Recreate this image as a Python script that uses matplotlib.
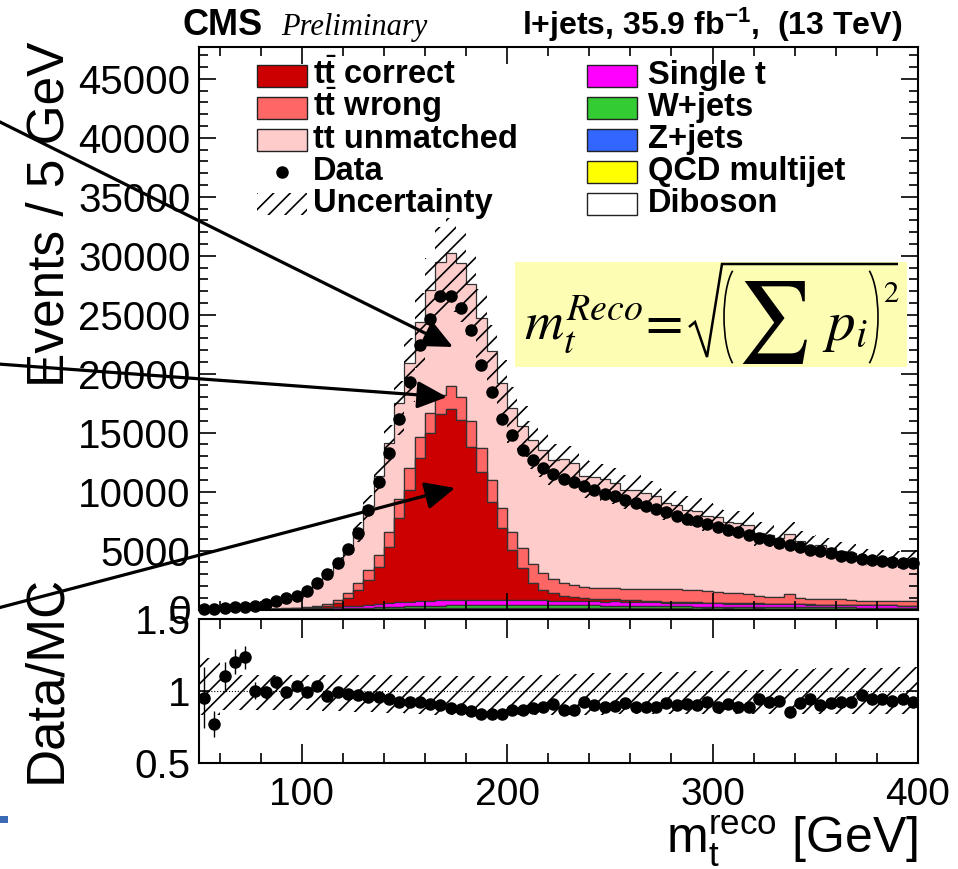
import numpy as np
import matplotlib.pyplot as plt
from matplotlib.patches import Rectangle, FancyArrowPatch, Arc
from matplotlib.lines import Line2D
from matplotlib.ticker import MultipleLocator

plt.rcParams['font.family'] = ['Liberation Sans', 'DejaVu Sans']
plt.rcParams['mathtext.fontset'] = 'custom'
plt.rcParams['mathtext.rm'] = 'Liberation Sans'
plt.rcParams['mathtext.it'] = 'Liberation Sans:italic'
plt.rcParams['mathtext.bf'] = 'Liberation Sans:bold'
plt.rcParams['hatch.linewidth'] = 1.2

# 5 GeV bins, 50-400 GeV
edges = np.arange(50, 401, 5)
centers = edges[:-1] + 2.5

data = [20, 70, 130, 185, 240, 300, 470, 750, 950, 1150,
        1600, 2220, 3010, 3970, 5100, 6510, 8430, 10790, 13280, 16160,
        19260, 22460, 24640, 26550, 26550, 25570, 23730, 20760, 18420, 16160,
        14830, 13560, 12640, 11960, 11510, 11090, 10790, 10450, 10110, 9830,
        9600, 9320, 9040, 8760, 8530, 8250, 7970, 7690, 7490, 7290,
        7010, 6720, 6550, 6360, 6070, 5870, 5650, 5510, 5310, 5085,
        4940, 4800, 4575, 4435, 4290, 4200, 4120, 4050, 3980, 3960]

tt_correct = [0, 0, 0, 0, 3, 6, 10, 15, 25, 40,
              60, 100, 150, 345, 690, 1327, 2100, 3167, 4783, 7125,
              9460, 12114, 14178, 15795, 16195, 15272, 12927, 10817, 8315, 6051,
              4227, 2699, 1426, 859, 644, 390, 326, 265, 220, 190,
              165, 145, 130, 115, 100, 90, 80, 72, 65, 58,
              52, 47, 42, 38, 34, 31, 28, 25, 23, 21,
              19, 17, 15, 14, 13, 12, 11, 10, 9, 8]

tt_wrong = [0, 0, 0, 2, 5, 8, 12, 18, 25, 35,
            50, 90, 170, 260, 420, 570, 820, 1000, 1280, 1650,
            1850, 1800, 1750, 1650, 1900, 1950, 2250, 2050, 1850, 1750,
            1550, 1700, 1650, 1450, 1150, 1080, 1020, 960, 922, 939,
            952, 969, 966, 994, 1001, 1023, 1051, 1046, 1049, 1008,
            886, 846, 851, 836, 640, 618, 606, 800, 497, 469,
            456, 443, 509, 389, 384, 380, 365, 350, 350, 435]

tt_unmatched = [21, 91, 118, 148, 179, 274, 432, 646, 867, 987,
                1422, 1852, 2642, 3199, 3836, 4488, 5464, 6671, 7526, 8091,
                8957, 9799, 10394, 11280, 11260, 11347, 11571, 11011, 10943, 10606,
                10453, 10369, 10494, 10411, 10100, 10523, 10323, 9424, 9383, 9245,
                8887, 8426, 8417, 8178, 7928, 7316, 7156, 6771, 6672, 6324,
                6426, 5985, 5980, 5836, 5307, 5246, 4995, 5157, 4853, 4510,
                4609, 4396, 4046, 4015, 3663, 3704, 3663, 3655, 3554, 3544]

single_t = [0, 0, 0, 3, 5, 8, 12, 18, 25, 35,
            50, 70, 95, 125, 160, 200, 240, 280, 320, 360,
            390, 410, 430, 445, 480, 440, 460, 455, 450, 445,
            440, 430, 420, 410, 400, 390, 380, 370, 360, 350,
            370, 310, 330, 320, 315, 305, 300, 290, 285, 280,
            270, 265, 260, 250, 245, 240, 235, 260, 225, 220,
            215, 210, 230, 200, 195, 190, 185, 180, 175, 170]

wjets = [0, 0, 0, 1, 2, 3, 5, 7, 10, 14,
         20, 28, 38, 50, 65, 80, 100, 120, 140, 160,
         180, 195, 210, 220, 230, 240, 245, 250, 250, 250,
         250, 248, 245, 242, 238, 234, 230, 225, 220, 215,
         210, 205, 200, 195, 190, 185, 180, 175, 170, 165,
         160, 156, 152, 148, 144, 140, 136, 132, 128, 124,
         120, 117, 114, 111, 108, 105, 102, 99, 96, 93]

zjets = [0, 0, 0, 0, 1, 1, 2, 3, 4, 5,
         7, 10, 13, 17, 22, 28, 35, 42, 50, 56,
         62, 68, 72, 76, 80, 82, 84, 85, 85, 85,
         85, 84, 83, 82, 81, 80, 78, 76, 74, 72,
         70, 68, 66, 64, 62, 60, 58, 56, 55, 54,
         52, 51, 50, 49, 48, 47, 46, 45, 44, 43,
         42, 41, 40, 39, 38, 37, 36, 35, 34, 33]

qcd = [0, 0, 0, 0, 0, 0, 2, 0, 3, 0,
       5, 3, 8, 10, 6, 12, 15, 10, 20, 18,
       25, 15, 30, 20, 35, 25, 40, 30, 20, 35,
       25, 40, 30, 45, 20, 35, 30, 25, 40, 20,
       30, 25, 35, 20, 30, 25, 20, 30, 15, 25,
       20, 25, 15, 20, 30, 15, 20, 10, 25, 15,
       20, 15, 10, 20, 15, 10, 15, 20, 10, 15]

diboson = [0, 0, 0, 0, 0, 0, 0, 1, 1, 1,
           2, 2, 3, 4, 5, 6, 7, 8, 9, 10,
           11, 12, 13, 14, 15, 15, 16, 16, 16, 16,
           16, 16, 16, 15, 15, 15, 15, 14, 14, 14,
           13, 13, 13, 12, 12, 12, 11, 11, 11, 10,
           10, 10, 10, 9, 9, 9, 9, 8, 8, 8,
           8, 7, 7, 7, 7, 6, 6, 6, 6, 6]

# relative edges of the MC uncertainty band
unc_up = [1.23, 1.23, 1.11, 1.11, 1.11, 1.11, 1.11, 1.11, 1.11, 1.11,
          1.11, 1.11, 1.11, 1.11, 1.11, 1.11, 1.11, 1.11, 1.11, 1.11,
          1.10, 1.10, 1.10, 1.10, 1.10, 1.10, 1.10, 1.10, 1.10, 1.10,
          1.105, 1.105, 1.11, 1.11, 1.11, 1.115, 1.115, 1.12, 1.12, 1.12,
          1.12, 1.125, 1.125, 1.125, 1.13, 1.13, 1.13, 1.135, 1.135, 1.135,
          1.14, 1.14, 1.14, 1.145, 1.145, 1.145, 1.15, 1.15, 1.15, 1.15,
          1.155, 1.155, 1.155, 1.16, 1.16, 1.16, 1.16, 1.165, 1.165, 1.165]
unc_dn = [0.83, 0.83, 0.865, 0.865, 0.865, 0.865, 0.865, 0.865, 0.865, 0.865,
          0.865, 0.865, 0.86, 0.86, 0.855, 0.855, 0.85, 0.85, 0.845, 0.845,
          0.84, 0.84, 0.835, 0.835, 0.835, 0.83, 0.83, 0.83, 0.83, 0.83,
          0.83, 0.83, 0.83, 0.83, 0.835, 0.835, 0.835, 0.835, 0.835, 0.835,
          0.84, 0.84, 0.84, 0.84, 0.84, 0.84, 0.84, 0.84, 0.84, 0.84,
          0.84, 0.84, 0.84, 0.84, 0.84, 0.84, 0.84, 0.84, 0.84, 0.84,
          0.84, 0.84, 0.84, 0.84, 0.84, 0.84, 0.84, 0.84, 0.84, 0.84]

# stack bottom -> top
stack = [diboson, qcd, zjets, wjets, single_t, tt_correct, tt_wrong, tt_unmatched]
colors = ['white', '#ffff00', '#3366ff', '#33cc33', '#ff00ff', '#cc0000', '#ff6666', '#ffcccc']

mc = np.sum(np.array(stack, float), axis=0)
data = np.array(data, float)
unc_up = np.array(unc_up)
unc_dn = np.array(unc_dn)
ratio = data / mc
ratio_err = np.sqrt(data) / mc

# figure positioned in pixels
W, H = 958, 869
def fx(px):
    return px / W
def fy(py):
    return 1 - py / H

fig = plt.figure(figsize=(W / 100, H / 100), dpi=100)
ax = fig.add_axes([fx(199), fy(609.5), fx(918) - fx(199), fy(47) - fy(609.5)])
rax = fig.add_axes([fx(199), fy(763), fx(918) - fx(199), fy(618.5) - fy(763)])

# main panel
ax.hist([centers] * len(stack), bins=edges, weights=stack, stacked=True,
        histtype='stepfilled', color=colors, edgecolor='#333333', linewidth=0.9)
band_lo = np.append(mc * unc_dn, mc[-1] * unc_dn[-1])
band_hi = np.append(mc * unc_up, mc[-1] * unc_up[-1])
ax.fill_between(edges, band_lo, band_hi, step='post', facecolor='none',
                edgecolor='black', hatch='//', linewidth=0, zorder=3)
ax.errorbar(centers, data, yerr=np.sqrt(data), fmt='o', color='black', ms=8,
            elinewidth=1, capsize=0, zorder=4, clip_on=False)

ax.set_xlim(50, 400)
ax.set_ylim(0, 47700)
ax.xaxis.set_major_locator(MultipleLocator(100))
ax.xaxis.set_minor_locator(MultipleLocator(20))
ax.yaxis.set_major_locator(MultipleLocator(5000))
ax.yaxis.set_minor_locator(MultipleLocator(1000))
ax.tick_params(which='both', direction='in', top=True, right=True,
               labelbottom=False, labelsize=29, width=1.2, pad=6)
ax.tick_params(which='major', length=12)
ax.tick_params(which='minor', length=6.5)

# ratio panel
rband_lo = np.append(unc_dn, unc_dn[-1])
rband_hi = np.append(unc_up, unc_up[-1])
rax.fill_between(edges, rband_lo, rband_hi, step='post', facecolor='none',
                 edgecolor='black', hatch='//', linewidth=0, zorder=2)
rax.axhline(1, color='black', ls=':', lw=0.8, zorder=1)
rax.errorbar(centers, ratio, yerr=ratio_err, fmt='o', color='black', ms=8,
             elinewidth=1, capsize=0, zorder=4)
rax.set_xlim(50, 400)
rax.set_ylim(0.5, 1.5)
rax.set_yticks([0.5, 1, 1.5], ['0.5', '1', '1.5'])
rax.xaxis.set_major_locator(MultipleLocator(100))
rax.xaxis.set_minor_locator(MultipleLocator(20))
rax.tick_params(which='both', direction='in', top=True, right=True,
                labelsize=28, width=1.2)
rax.tick_params(axis='y', labelsize=29)
rax.tick_params(axis='x', which='major', length=14, pad=10)
rax.tick_params(axis='x', which='minor', length=7)
rax.tick_params(axis='y', which='major', length=8, pad=6)

for a in (ax, rax):
    for s in a.spines.values():
        s.set_linewidth(1.5)

# axis titles
fig.text(fx(50), fy(42), 'Events / 5 GeV', rotation=90, fontsize=37,
         ha='center', va='top')
fig.text(fx(46), fy(679), 'Data/MC', rotation=90, fontsize=38,
         ha='center', va='center')
fig.text(fx(918), fy(853), r'm$_{\mathrm{t}}^{\mathrm{reco}}$ [GeV]', fontsize=36,
         ha='right', va='baseline')

# header
fig.text(fx(183), fy(35), 'CMS', fontsize=26, fontweight='bold', va='baseline')
fig.text(fx(281), fy(35), 'Preliminary', fontsize=22, family='Liberation Serif',
         style='italic', va='baseline')
fig.text(fx(902), fy(35), r'l+jets, 35.9 fb$^{\mathbf{-1}}$,  (13 TeV)', fontsize=23,
         fontweight='bold', ha='right', va='baseline')

# legend, drawn by hand
rows = [76, 108, 140, 172, 204]
left_entries = [(r't$\bar{\mathbf{t}}$ correct', '#cc0000'),
                (r't$\bar{\mathbf{t}}$ wrong', '#ff6666'),
                ('tt unmatched', '#ffcccc'),
                ('Data', 'data'),
                ('Uncertainty', 'unc')]
right_entries = [('Single t', '#ff00ff'), ('W+jets', '#33cc33'), ('Z+jets', '#3366ff'),
                 ('QCD multijet', '#ffff00'), ('Diboson', 'white')]

def legend_box(x0, yc, face):
    if face == 'data':
        fig.add_artist(Line2D([fx(x0 + 25)], [fy(yc)], marker='o', color='black', ms=8,
                              transform=fig.transFigure))
    elif face == 'unc':
        fig.add_artist(Rectangle((fx(x0), fy(yc + 11)), 50 / W, 22 / H,
                                 transform=fig.transFigure, facecolor='none',
                                 edgecolor='black', hatch='//', lw=0))
    else:
        fig.add_artist(Rectangle((fx(x0), fy(yc + 11)), 50 / W, 22 / H,
                                 transform=fig.transFigure, facecolor=face,
                                 edgecolor='#222222', lw=1))

for yc, (label, face) in zip(rows, left_entries):
    legend_box(257, yc, face)
    fig.text(fx(313), fy(yc + 8), label, fontsize=23.5, fontweight='bold', va='baseline')
for yc, (label, face) in zip(rows, right_entries):
    legend_box(587, yc, face)
    fig.text(fx(648), fy(yc + 8), label, fontsize=23.5, fontweight='bold', va='baseline')

# formula box, built piece by piece in a pixel-coordinate overlay
ov = fig.add_axes([0, 0, 1, 1], zorder=5)
ov.set_xlim(0, W)
ov.set_ylim(H, 0)
ov.axis('off')
ov.add_patch(Rectangle((515, 262), 392, 105, facecolor='#fdfdb4', lw=0))
ov.text(524, 340, r'$m_t^{Reco}$', fontsize=39, math_fontfamily='stix', va='baseline')
ov.text(645, 340, '=', family='STIXGeneral', fontsize=39, va='baseline')
ov.plot([689, 695, 707, 722, 898], [327, 322, 357, 264, 264], color='black',
        lw=1.8, solid_joinstyle='miter', solid_capstyle='butt')
# tall thin parentheses (angles are polar, hence close to +-90 deg)
ov.add_patch(Arc((740, 317), 32, 104, theta1=99, theta2=261, lw=1.2, color='black'))
ov.add_patch(Arc((862, 317), 32, 104, theta1=-81, theta2=81, lw=1.2, color='black'))
ov.text(774, 322, '\u2211', family='STIXGeneral', fontsize=58, ha='center', va='center')
ov.text(822, 340, r'$p_i$', fontsize=41, math_fontfamily='stix', va='baseline')
ov.text(883, 302, '2', family='STIXGeneral', fontsize=22, va='baseline')

# slide arrows
arrows = [((-2, 121), (453, 347)), ((-2, 364), (447, 397)), ((-2, 608), (455, 488))]
for (x0, y0), (x1, y1) in arrows:
    fig.add_artist(FancyArrowPatch((fx(x0), fy(y0)), (fx(x1), fy(y1)),
                                   transform=fig.transFigure,
                                   arrowstyle='-|>,head_length=1.3,head_width=0.6',
                                   mutation_scale=14, lw=2.3, color='black',
                                   shrinkA=0, shrinkB=0, zorder=10))

fig.add_artist(Rectangle((0, fy(823)), 8 / W, 7 / H, transform=fig.transFigure,
                         facecolor='#3b6bb5', lw=0))

fig.savefig('out.png', dpi=100)
